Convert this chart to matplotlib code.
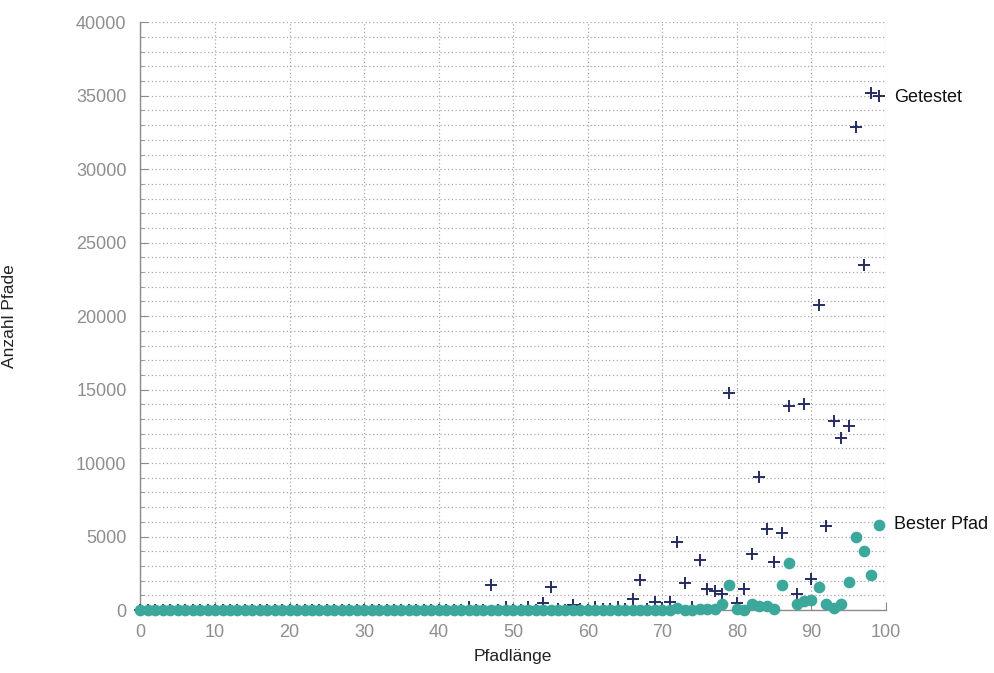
import numpy as np
import matplotlib
matplotlib.use('Agg')
import matplotlib.pyplot as plt
from matplotlib.ticker import MultipleLocator

plt.rcParams['font.family'] = ['Liberation Sans', 'DejaVu Sans']

# Pfadlänge 0..99
laenge = list(range(100))

# Getestete Pfade je Länge (kleine Werte werden von den Punkten verdeckt)
getestet = [0] * 40 + [
    0, 0, 0, 20, 200, 0, 20, 1700, 0, 180,               # 40-49
    20, 0, 180, 20, 450, 1590, 40, 20, 340, 40,          # 50-59
    20, 180, 40, 80, 220, 60, 730, 2020, 80, 520,        # 60-69
    120, 550, 4650, 1860, 180, 3400, 1430, 1290, 1070, 14750,  # 70-79
    500, 1430, 3790, 9080, 5490, 3250, 5220, 13890, 1070, 14020,  # 80-89
    2110, 20760, 5720, 12870, 11730, 12530, 32900, 23480, 35200, 34990,  # 90-99
]

# Bester Pfad je Länge
bester = [0] * 72 + [
    170, 0, 0, 60, 60, 90, 400, 1710,      # 72-79
    60, 20, 410, 270, 270, 90, 1670, 3220, 385, 635,  # 80-89
    680, 1590, 400, 120, 385, 1940, 4970, 4040, 2360, 5810,  # 90-99
]

blau = '#262b63'
gruen = '#3ba89b'
grau = '#8c8c8c'

fig = plt.figure(figsize=(9.95, 6.73), dpi=100, facecolor='white')
ax = fig.add_axes([0.1412, 0.0936, 0.7493, 0.8733])

ax.plot(laenge, getestet, linestyle='none', marker='+', markersize=9,
        markeredgewidth=1.4, color=blau, zorder=3, clip_on=False)
ax.plot(laenge, bester, linestyle='none', marker='o', markersize=7.4,
        color=gruen, zorder=4, clip_on=False)

ax.set_xlim(0, 100)
ax.set_ylim(0, 40000)
ax.xaxis.set_major_locator(MultipleLocator(10))
ax.yaxis.set_major_locator(MultipleLocator(5000))
ax.yaxis.set_minor_locator(MultipleLocator(1000))

ax.grid(True, which='major', axis='x', linestyle=(0, (1, 2)), color='#a8a8a8', linewidth=0.9)
ax.grid(True, which='both', axis='y', linestyle=(0, (1, 2)), color='#a8a8a8', linewidth=0.9)
ax.set_axisbelow(True)

for s in ['top', 'right']:
    ax.spines[s].set_visible(False)
for s in ['left', 'bottom']:
    ax.spines[s].set_color(grau)
    ax.spines[s].set_linewidth(1.0)

ax.tick_params(axis='both', which='major', direction='in', color=grau,
               labelcolor='#8e8e8e', labelsize=13, length=6)
ax.tick_params(axis='y', which='minor', direction='in', color=grau, length=3)
ax.tick_params(axis='x', pad=10)
ax.tick_params(axis='y', pad=10)

ax.set_xlabel('Pfadlänge', fontsize=12.5, color='#222222', labelpad=6)
ax.set_ylabel('Anzahl Pfade', fontsize=12.5, color='#222222')
ax.yaxis.set_label_coords(-0.166, 0.5)

# Beschriftung am Ende der Reihen
ax.annotate('Getestet', xy=(laenge[-1], getestet[-1]), xytext=(11, -1),
            textcoords='offset points', va='center', ha='left',
            fontsize=13, color='#111111', annotation_clip=False)
ax.annotate('Bester Pfad', xy=(laenge[-1], bester[-1]), xytext=(11, 0),
            textcoords='offset points', va='center', ha='left',
            fontsize=13, color='#111111', annotation_clip=False)

fig.savefig('out.png', dpi=100, facecolor='white')
